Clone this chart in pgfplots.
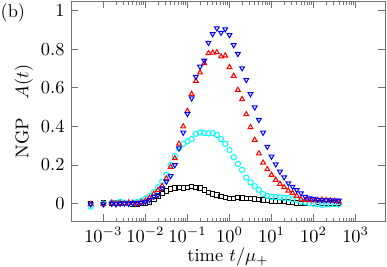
\documentclass[border=0pt]{standalone}
\usepackage{pgfplots}
\usepackage{pgfplotstable}
\pgfplotsset{compat=1.18}
\pgfplotstableread{
x z1 z2 z3 z4
5.012e-4 0.000 -0.015 -0.003 -0.003
1.000e-3 0.005 0.000 -0.003 -0.003
1.585e-3 0.000 0.005 0.005 0.000
1.995e-3 0.003 0.002 0.000 -0.003
2.512e-3 0.000 0.010 0.003 0.000
3.162e-3 0.002 0.005 0.000 0.002
3.981e-3 0.000 0.000 0.005 0.000
5.012e-3 -0.003 0.005 0.003 0.003
6.310e-3 -0.005 0.008 0.000 0.005
7.943e-3 0.000 0.015 0.008 0.005
0.01 0.000 0.025 0.015 0.010
0.012589 0.008 0.040 0.030 0.020
0.015849 0.020 0.059 0.050 0.036
0.019953 0.036 0.085 0.071 0.045
0.025119 0.054 0.114 0.092 0.080
0.031623 0.066 0.149 0.130 0.114
0.039811 0.075 0.200 0.190 0.143
0.050119 0.080 0.247 0.235 0.200
0.063096 0.085 0.287 0.310 0.287
0.079433 0.080 0.310 0.400 0.368
0.1 0.085 0.322 0.480 0.465
0.12589 0.088 0.335 0.568 0.546
0.15849 0.085 0.362 0.636 0.658
0.19953 0.080 0.368 0.679 0.710
0.25119 0.071 0.366 0.727 0.741
0.31623 0.057 0.364 0.779 0.834
0.39811 0.050 0.366 0.782 0.879
0.50119 0.045 0.356 0.784 0.909
0.63096 0.036 0.334 0.762 0.886
0.79433 0.033 0.310 0.767 0.904
1 0.028 0.278 0.707 0.874
1.2589 0.028 0.240 0.662 0.822
1.5849 0.033 0.206 0.589 0.776
1.9953 0.030 0.175 0.541 0.702
2.5119 0.028 0.135 0.463 0.641
3.1623 0.026 0.110 0.396 0.568
3.9811 0.023 0.090 0.330 0.499
5.0119 0.022 0.071 0.260 0.434
6.3096 0.019 0.050 0.212 0.368
7.9433 0.016 0.040 0.178 0.295
10 0.014 0.036 0.149 0.244
12.589 0.013 0.033 0.123 0.204
15.849 0.011 0.032 0.102 0.166
19.953 0.011 0.030 0.085 0.137
25.119 0.009 0.028 0.067 0.106
31.623 0.006 0.022 0.055 0.088
39.811 0.003 0.020 0.040 0.071
50.119 0.002 0.010 0.022 0.054
63.096 0.003 0.007 0.018 0.036
79.433 0.004 0.002 0.018 0.028
100 0.002 0.000 0.016 0.025
125.89 0.005 -0.003 0.018 0.020
158.49 0.003 -0.007 0.020 0.018
199.53 0.002 -0.004 0.018 0.018
251.19 0.004 -0.002 0.016 0.018
316.23 0.003 -0.002 0.014 0.016
398.11 0.002 -0.003 0.010 0.016
}\datatable
\definecolor{myred}{rgb}{1,0,0}
\definecolor{myblue}{rgb}{0,0,1}
\definecolor{mycyan}{rgb}{0,1,1}
\begin{document}
\begin{tikzpicture}
\useasboundingbox (-38.6pt,-25pt) rectangle (171.8pt,120.1pt);
\begin{axis}[
  at={(0,0)}, anchor=south west,
  scale only axis, width=170.7pt, height=119.2pt,
  xmode=log, xmin=1.7e-4, xmax=5e3,
  ymin=-0.0896, ymax=1.0466,
  xtick={1e-3,1e-2,1e-1,1,10,100,1000},
  ytick={0,0.2,0.4,0.6,0.8,1},
  yticklabels={$0$,$0.2$,$0.4$,$0.6$,$0.8$,$1$},
  tick align=inside,
  major tick length=3.7pt, minor tick length=1.8pt,
  axis line style={black!55},
  every tick/.style={black!55},
  xlabel={time $t/\mu_+$},
  xlabel style={yshift=4pt},
  ylabel={NGP\quad$A(t)$},
  ylabel shift=-2.5pt,
  clip=false,
]
\addplot[only marks, mark=square, mark size=1.2pt, black, mark options={line width=0.55pt}] table[x=x, y=z1] {\datatable};
\addplot[only marks, mark=o, mark size=1.45pt, mycyan, mark options={line width=0.55pt}] table[x=x, y=z2] {\datatable};
\addplot[only marks, mark=triangle, mark size=1.5pt, myred, mark options={line width=0.55pt}] table[x=x, y=z3] {\datatable};
\addplot[only marks, mark=triangle, mark size=1.5pt, myblue, mark options={line width=0.55pt, rotate=180}] table[x=x, y=z4] {\datatable};
\end{axis}
\node at (-31.6pt,112.9pt) {(b)};
\end{tikzpicture}
\end{document}
